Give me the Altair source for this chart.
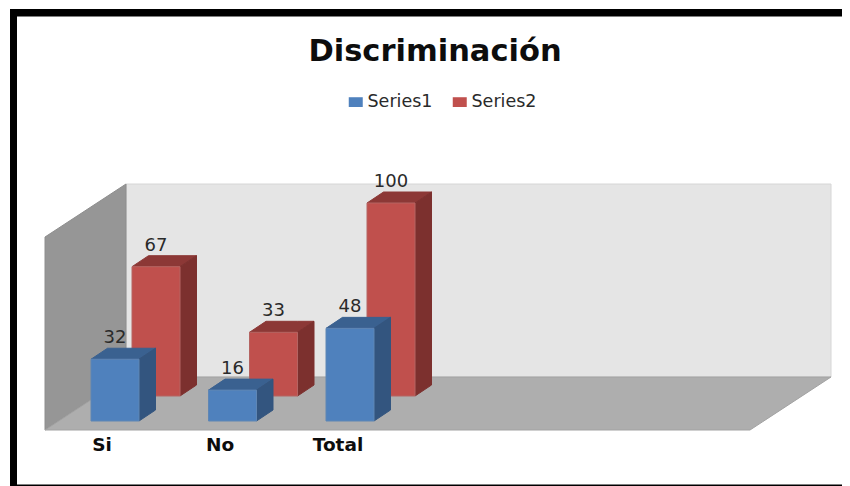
import altair as alt
import pandas as pd

categories = ["Si", "No", "Total"]
series1 = [32, 16, 48]
series2 = [67, 33, 100]
series_names = ["Series1", "Series2"]
title_text = "Discriminación"

# --- projection of the pseudo-3D scene (page pixels -> chart scales) ---
W, H = 834, 478
U = 1.93               # pixels per value unit


def X(px):
    return px - 8


def V(py):
    return (377 - py) / U


FRONT = {"Series1": "#4f81bd", "Series2": "#c0504d"}
TOP = {"Series1": "#3a6190", "Series2": "#8c3836"}
SIDE = {"Series1": "#33557f", "Series2": "#7c302e"}
EDGE = {"Series1": "#5f86b4", "Series2": "#b56462"}
SBASE = {"Series1": 421, "Series2": 396}
SX0 = {"Series1": 91, "Series2": 132}
BAR_W, STEP, DX, DY = 48, 117.5, 16.5, 11


def face(rows, pid, x0, x3, ytop0, ytop3, ybot0, ybot3, xa, xb, fill, stroke):
    """Parallelogram as an area: the outline passes x0, xa, xb, x3."""
    pts = sorted({x0, xa, xb, x3})
    for x in pts:
        ft = min(1, (x - x0) / (xa - x0)) if xa > x0 else 1
        fb = max(0, (x - xb) / (x3 - xb)) if x3 > xb else 0
        rows.append(dict(poly=pid, x=X(x),
                         y=V(ytop0 + (ytop3 - ytop0) * ft),
                         y2=V(ybot0 + (ybot3 - ybot0) * fb),
                         fill=fill, stroke=stroke))


def bar_faces(name, values):
    rows, fronts, labels = [], [], []
    for i, (cat, val) in enumerate(zip(categories, values)):
        x0 = SX0[name] + i * STEP
        x1 = x0 + BAR_W
        base = SBASE[name]
        top = base - val * U
        pid = f"{name}{i}"
        # top face
        face(rows, pid + "t", x0, x1 + DX, top, top - DY, top, top - DY,
             x0 + DX, x1, TOP[name], TOP[name])
        # side face
        face(rows, pid + "s", x1, x1 + DX, top, top - DY, base, base - DY,
             x1 + DX, x1, SIDE[name], SIDE[name])
        fronts.append(dict(series=name, cat=cat, x=X(x0), x2=X(x1), y=V(top), y2=V(base),
                           edge=EDGE[name]))
        labels.append(dict(x=X((x0 + x1) / 2), y=V(top - 21), label=str(val)))
    return rows, fronts, labels


x_scale = alt.Scale(domain=[0, W], range=[0, W], nice=False, zero=False)
y_scale = alt.Scale(domain=[V(8 + H), V(8)], range=[H, 0], nice=False, zero=False)
xq = alt.X("x:Q", scale=x_scale, axis=None)
yq = alt.Y("y:Q", scale=y_scale, axis=None)
color = alt.Color("series:N", scale=alt.Scale(domain=series_names, range=[FRONT[s] for s in series_names]),
                  legend=alt.Legend(
                      title=None, orient="none", direction="horizontal",
                      legendX=339, legendY=85,
                      symbolType="M-1,-0.7H1V0.7H-1Z", symbolSize=196,
                      symbolStrokeWidth=1, labelFont="DejaVu Sans", labelFontSize=17.5,
                      labelColor="#2a2a2a", labelOffset=3, columnPadding=18,
                  ))


def area_layer(rows):
    return alt.Chart(pd.DataFrame(rows)).mark_area(strokeWidth=1).encode(
        x=xq, y=yq, y2="y2:Q",
        fill=alt.Fill("fill:N", scale=None),
        stroke=alt.Stroke("stroke:N", scale=None),
        detail="poly:N",
    )


def front_layer(fronts):
    return alt.Chart(pd.DataFrame(fronts)).mark_rect(strokeWidth=1).encode(
        x=xq, x2="x2:Q", y=yq, y2="y2:Q", color=color,
        stroke=alt.Stroke("edge:N", scale=None),
    )


# --- walls and floor ---
walls = []
face(walls, "left", 45, 126, 237, 184, 430, 377, 126, 45, "#969696", "#8e8e8e")
face(walls, "floor", 45, 831, 430, 377, 430, 377, 126, 750, "#aeaeae", "#a2a2a2")
back = pd.DataFrame([dict(x=X(126), x2=X(831), y=V(184), y2=V(377))])
back_layer = alt.Chart(back).mark_rect(color="#e5e5e5", stroke="#d6d6d6", strokeWidth=1).encode(
    x=xq, x2="x2:Q", y=yq, y2="y2:Q")

# --- frame (open on the right) ---
frame = pd.DataFrame([
    dict(x=X(10), x2=X(17), y=V(9), y2=V(486)),
    dict(x=X(10), x2=W, y=V(9), y2=V(16.5)),
    dict(x=X(10), x2=W, y=V(484.5), y2=V(486)),
])
frame_layer = alt.Chart(frame).mark_rect(color="#000000").encode(
    x=xq, x2="x2:Q", y=yq, y2="y2:Q")

red_rows, red_fronts, red_labels = bar_faces("Series2", series2)
blue_rows, blue_fronts, blue_labels = bar_faces("Series1", series1)

value_labels = alt.Chart(pd.DataFrame(red_labels + blue_labels)).mark_text(
    font="DejaVu Sans", fontSize=18, color="#2a2a2a", baseline="middle", align="center"
).encode(x=xq, y=yq, text="label:N")

cat_labels = alt.Chart(pd.DataFrame([
    dict(x=X(102 + i * 118), y=V(445), label=c) for i, c in enumerate(categories)
])).mark_text(
    font="DejaVu Sans", fontSize=18.5, fontWeight="bold", color="#0d0d0d",
    baseline="middle", align="center"
).encode(x=xq, y=yq, text="label:N")

chart = alt.layer(
    back_layer, area_layer(walls),
    area_layer(red_rows), front_layer(red_fronts),
    area_layer(blue_rows), front_layer(blue_fronts),
    value_labels, cat_labels, frame_layer,
).properties(
    width=W, height=H,
    padding=0,
    autosize=alt.AutoSizeParams(type="none"),
    background="white",
    title=alt.TitleParams(title_text, font="DejaVu Sans", fontSize=30.5, fontWeight="bold",
                          color="#0d0d0d", anchor="middle", dx=10, dy=63),
).configure_view(stroke=None)

chart.save("out.html", embed_options={"renderer": "svg", "actions": False})
